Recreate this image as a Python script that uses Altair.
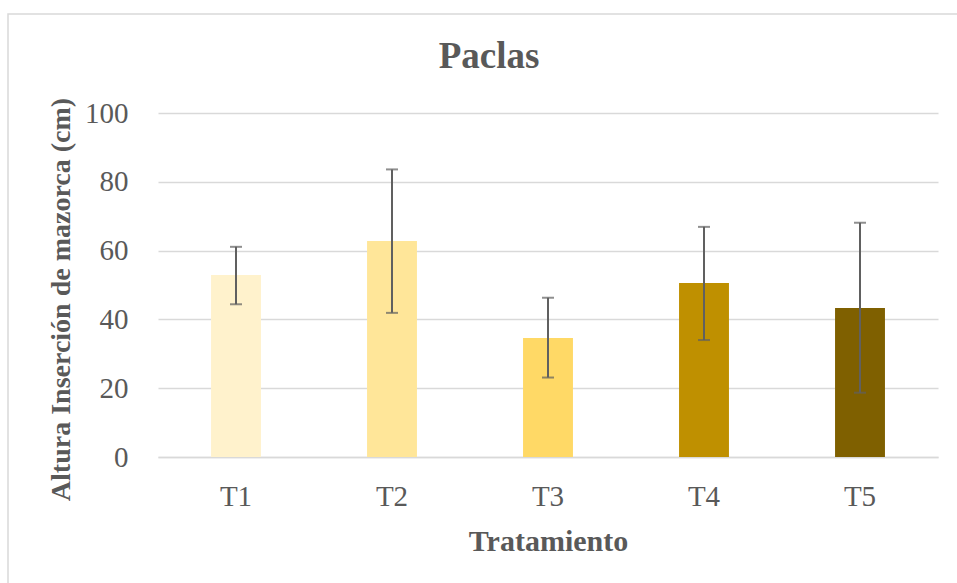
import altair as alt
import pandas as pd

categories = ["T1", "T2", "T3", "T4", "T5"]
means = [52.9, 62.8, 34.6, 50.6, 43.3]
err_low = [44.4, 41.9, 23.1, 34.0, 18.7]
err_high = [61.1, 83.6, 46.3, 66.9, 68.1]
colors = ["#FFF2CC", "#FFE699", "#FFD966", "#BF9000", "#7F6000"]
y_ticks = [0, 20, 40, 60, 80, 100]

df = pd.DataFrame({"cat": categories, "mean": means, "lo": err_low, "hi": err_high})

FONT = "Liberation Serif"
GRAY = "#595959"

x_enc = alt.X("cat:N", sort=categories,
              scale=alt.Scale(paddingInner=0.68, paddingOuter=0.34),
              axis=alt.Axis(title="Tratamiento", labelAngle=0, ticks=False,
                            labelPadding=25, labelFontSize=29, labelFont=FONT,
                            labelColor=GRAY, titleFont=FONT, titleFontSize=30,
                            titleFontWeight="bold", titleColor=GRAY,
                            titleBaseline="alphabetic", titleY=93,
                            domainColor="#D9D9D9", domainWidth=1.5, grid=False))

bars = alt.Chart(df).mark_bar().encode(
    x=x_enc,
    y=alt.Y("mean:Q", scale=alt.Scale(domain=[0, 100]),
            axis=alt.Axis(title="Altura Inserción de mazorca (cm)", values=y_ticks,
                          ticks=False, domain=False, labelPadding=30,
                          labelFontSize=29, labelFont=FONT, labelColor=GRAY,
                          gridColor="#D9D9D9", gridWidth=1.5,
                          titleFont=FONT, titleFontSize=28, titleFontWeight="bold",
                          titleColor=GRAY, titleAngle=-90, titleBaseline="middle",
                          titleAlign="center", titleX=-97, titleY=186)),
    color=alt.Color("cat:N", scale=alt.Scale(domain=categories, range=colors), legend=None),
)

rules = alt.Chart(df).mark_rule(color="#606060", strokeWidth=2).encode(
    x=alt.X("cat:N", sort=categories), y="lo:Q", y2="hi:Q")
cap_lo = alt.Chart(df).mark_tick(color="#606060", thickness=2, size=12, orient="horizontal").encode(
    x=alt.X("cat:N", sort=categories), y="lo:Q")
cap_hi = alt.Chart(df).mark_tick(color="#606060", thickness=2, size=12, orient="horizontal").encode(
    x=alt.X("cat:N", sort=categories), y="hi:Q")

title = alt.Chart(pd.DataFrame({"t": ["Paclas"]})).mark_text(
    font=FONT, fontSize=37, fontWeight="bold", color=GRAY, baseline="alphabetic", align="center"
).encode(text="t:N", x=alt.value(331), y=alt.value(-45))

border = alt.Chart(pd.DataFrame({"a": [0]})).mark_rect(
    fill=None, stroke="#D9D9D9", strokeWidth=1.5
).encode(x=alt.value(-150), x2=alt.value(815), y=alt.value(-99), y2=alt.value(485))

chart = alt.layer(border, bars, rules, cap_lo, cap_hi, title).properties(
    width=780, height=344,
    background="white",
    autosize=alt.AutoSizeParams(type="none"),
    padding={"left": 158, "top": 113, "right": 19, "bottom": 126},
).configure_view(stroke=None)

chart.save("out.html", embed_options={"renderer": "svg", "actions": False})
